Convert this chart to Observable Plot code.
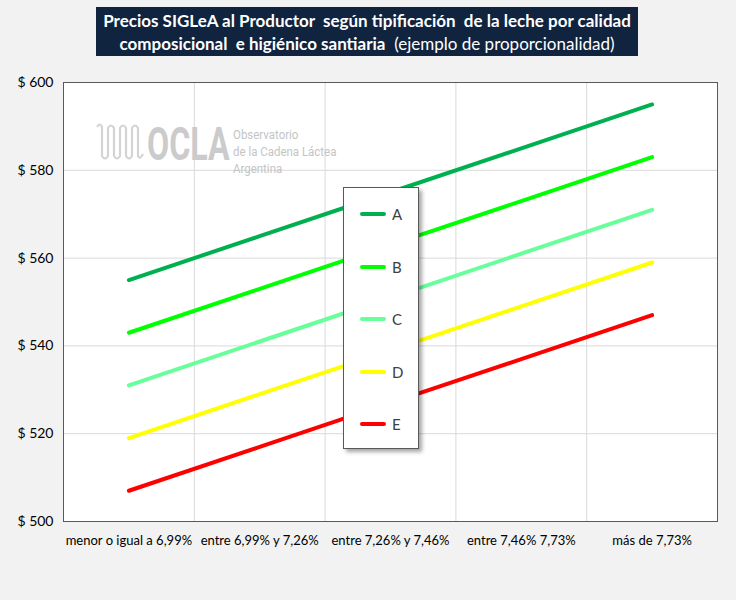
<!DOCTYPE html>
<html>
<head>
<meta charset="utf-8">
<script src="https://cdn.jsdelivr.net/npm/d3@7"></script>
<script src="https://cdn.jsdelivr.net/npm/@observablehq/plot@0.6"></script>
<style>
  body { margin: 0; background: #f2f2f2; }
  #wrap { position: relative; width: 736px; height: 600px; overflow: hidden; background: #f2f2f2; font-family: Lato, "Open Sans", sans-serif; }
  #title { position: absolute; left: 96px; top: 7px; width: 542px; height: 49px; background: #10233f; color: #fff;
           text-align: center; font-size: 17px; line-height: 23px; padding-top: 2px; box-sizing: border-box; white-space: pre; }
  #title b { font-weight: 700; }
  #chart { position: absolute; left: 0; top: 0; }
  #legend { position: absolute; left: 343px; top: 187px; width: 76px; height: 262px; background: #fff; border: 1px solid #595959;
            box-sizing: border-box; box-shadow: 3px 3px 4px rgba(0,0,0,0.35); }
  .li { position: absolute; left: 16px; height: 20px; display: flex; align-items: center; font-size: 15px; color: #404040; }
  .li span.sw { display: inline-block; width: 26px; height: 4px; border-radius: 2px; margin-right: 6px; }
  #wm { position: absolute; left: 0; top: 0; pointer-events: none; }
</style>
</head>
<body>
<div id="wrap">
  <div id="chart"></div>
  <svg id="wm" width="736" height="600">
    <path d="M97,127 Q100,122 102,127 L102,156 Q105,161 108,156 L108,128 Q111,123 114,128 L114,156 Q117,161 120,156 L120,128 Q123,123 126,128 L126,156 Q129,161 132,156 L132,128 Q135,123 138,128 L138,156 Q140,160 143,154"
          fill="none" stroke="#d4d4d4" stroke-width="2.2"/>
    <g transform="translate(147,160) scale(0.7,1)">
      <text x="0" y="0" font-family="Roboto, sans-serif" font-weight="700" font-size="46" fill="#cbcbcb">OCLA</text>
    </g>
    <g transform="translate(233,0) scale(0.85,1)" font-family="Roboto, sans-serif" font-size="13.5" fill="#c4c4c4">
      <text x="0" y="139">Observatorio</text>
      <text x="0" y="156">de la Cadena Láctea</text>
      <text x="0" y="173">Argentina</text>
    </g>
  </svg>
  <div id="title"><b>Precios SIGLeA al Productor  según tipificación  de la leche por calidad</b>
<b>composicional  e higiénico santiaria</b>  (ejemplo de proporcionalidad)</div>
  <div id="legend"></div>
</div>
<script>
// ---- data ----
const categories = ["menor o igual a 6,99%", "entre 6,99% y 7,26%", "entre 7,26% y 7,46%", "entre 7,46% 7,73%", "más de 7,73%"];
const seriesNames = ["A", "B", "C", "D", "E"];
const valuesA = [555, 565, 575, 585, 595];
const valuesB = [543, 553, 563, 573, 583];
const valuesC = [531, 541, 551, 561, 571];
const valuesD = [519, 529, 539, 549, 559];
const valuesE = [507, 517, 527, 537, 547];
const seriesColors = ["#00b050", "#00ff00", "#66ff99", "#ffff00", "#ff0000"];
const yTicks = [500, 520, 540, 560, 580, 600];

const allValues = [valuesA, valuesB, valuesC, valuesD, valuesE];
const rows = [];
seriesNames.forEach((s, si) => {
  allValues[si].forEach((v, ci) => rows.push({series: s, cat: ci + 0.5, value: v}));
});
const xCenters = categories.map((_, i) => i + 0.5);
const xBounds = categories.slice(1).map((_, i) => i + 1);

const chart = Plot.plot({
  width: 736,
  height: 600,
  marginTop: 82,
  marginBottom: 79,
  marginLeft: 63,
  marginRight: 19,
  style: {fontFamily: "Lato, 'Open Sans', sans-serif", background: "transparent", color: "#000"},
  x: {domain: [0, categories.length], axis: null, label: null},
  y: {domain: [500, 600], axis: null, label: null},
  color: {domain: seriesNames, range: seriesColors},
  marks: [
    Plot.frame({fill: "#fff", stroke: "none"}),
    Plot.ruleY(yTicks, {stroke: "#d9d9d9", strokeWidth: 1}),
    Plot.ruleX(xBounds, {stroke: "#d9d9d9", strokeWidth: 1}),
    Plot.frame({stroke: "#595959", strokeWidth: 1}),
    Plot.axisY(yTicks, {tickSize: 0, tickPadding: 10, fontSize: 14, label: null, tickFormat: d => "$ " + d}),
    Plot.axisX(xCenters, {tickSize: 0, tickPadding: 14, fontSize: 13, label: null, tickFormat: d => categories[Math.floor(d)]}),
    Plot.line(rows, {x: "cat", y: "value", z: "series", stroke: "series", strokeWidth: 4, strokeLinecap: "round"})
  ]
});
document.getElementById("chart").appendChild(chart);

// legend
const leg = document.getElementById("legend");
seriesNames.forEach((s, i) => {
  const d = document.createElement("div");
  d.className = "li";
  d.style.top = (16 + i * 52.5) + "px";
  d.innerHTML = `<span class="sw" style="background:${seriesColors[i]}"></span>${s}`;
  leg.appendChild(d);
});
</script>
</body>
</html>
